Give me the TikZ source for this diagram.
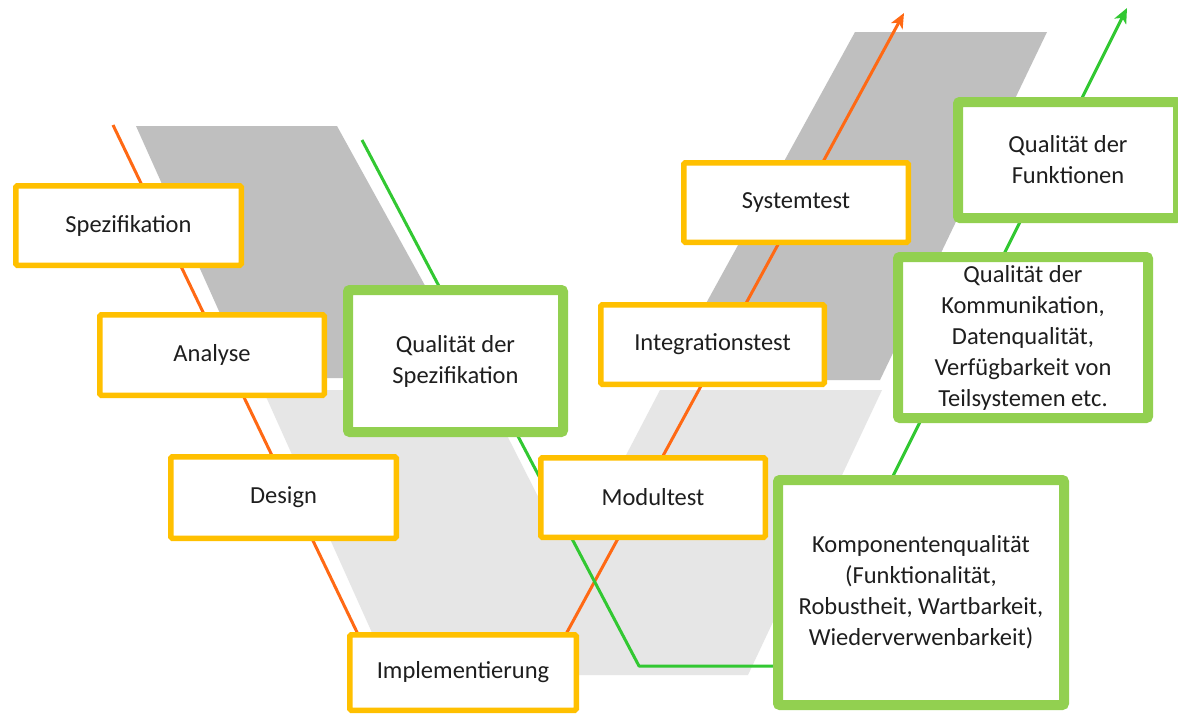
\documentclass[tikz,border=0pt]{standalone}
\usepackage{fontspec}
\setmainfont{Carlito}
\usetikzlibrary{arrows.meta}
\definecolor{boxorange}{HTML}{FFC000}
\definecolor{boxgreen}{HTML}{92D050}
\definecolor{lineorange}{RGB}{255,105,20}
\definecolor{linegreen}{RGB}{50,200,50}
\definecolor{darkband}{HTML}{BFBFBF}
\definecolor{lightband}{HTML}{E6E6E6}
\definecolor{txt}{HTML}{1E1E1E}
\begin{document}
\begin{tikzpicture}[x=1pt,y=-1pt,
  phasebox/.style={draw=boxorange, line width=5.5pt, fill=white, rounded corners=1.5pt,
    inner sep=0pt, text=txt, font=\fontsize{24.5}{31}\selectfont, align=center},
  qualbox/.style={draw=boxgreen, line width=10pt, fill=white, rounded corners=2pt,
    inner sep=0pt, text=txt, font=\fontsize{24.5}{31}\selectfont, align=center},
  oline/.style={draw=lineorange, line width=3pt, line join=round},
  gline/.style={draw=linegreen, line width=3pt, line join=round},
  tiphead/.style={-{Stealth[length=15pt,width=13pt,inset=4pt]}}
]
\useasboundingbox (0,0) rectangle (1178,713);
\fill[white] (0,0) rectangle (1178,713);

% background bands of the V
\fill[darkband] (136,126) -- (337,126) -- (476,378) -- (249,378) -- cycle;
\fill[darkband] (855,32) -- (1047,32) -- (880,380) -- (664,380) -- cycle;
\fill[lightband] (263,390) -- (484,390) -- (555,530) -- (587,530) -- (660,390)
  -- (882,390) -- (748,675) -- (391,675) -- cycle;

% connector waypoints
\coordinate (oS) at (113,125);
\coordinate (oL) at (380,680);
\coordinate (oR) at (541,680);
\coordinate (oE) at (904,13);
\coordinate (gS) at (362,140);
\coordinate (gL) at (639,666);
\coordinate (gR) at (893,666);
\coordinate (gU) at (893,476);
\coordinate (gE) at (1127,8);

\draw[oline,tiphead] (oS) -- (oL) -- (oR) -- (oE);
\draw[gline,tiphead] (gS) -- (gL) -- (gR) -- (gU) -- (gE);

% phase boxes
\node[phasebox, minimum width=225.5pt, minimum height=79.5pt] (spez) at (128.5,225.5) {Spezifikation};
\node[phasebox, minimum width=224.5pt, minimum height=80.5pt] (analyse) at (212,355) {Analyse};
\node[phasebox, minimum width=225.5pt, minimum height=81.5pt] (design) at (283.5,497.5) {Design};
\node[phasebox, minimum width=226.5pt, minimum height=75.5pt] (impl) at (463,672.5) {Implementierung};
\node[phasebox, minimum width=224.5pt, minimum height=79.5pt] (modul) at (653,497.5) {Modultest};
\node[phasebox, minimum width=223.5pt, minimum height=79.5pt] (integ) at (712.5,344.5) {Integrationstest};
\node[phasebox, minimum width=224.5pt, minimum height=79.5pt] (system) at (796,202.5) {Systemtest};

% quality boxes
\node[qualbox, minimum width=215pt, minimum height=142pt] (qspez) at (455.5,361) {Qualität der\\Spezifikation};
\node[qualbox, minimum width=220pt, minimum height=116pt] (qfunk) at (1068,160) {Qualität der\\Funktionen};
\node[qualbox, minimum width=250pt, minimum height=161pt] (qkomm) at (1023,337.5) {Qualität der\\Kommunikation,\\Datenqualität,\\Verfügbarkeit von\\Teilsystemen etc.};
\node[qualbox, minimum width=286pt, minimum height=225pt] (qkomp) at (921,592.5) {Komponentenqualität\\(Funktionalität,\\Robustheit, Wartbarkeit,\\Wiederverwenbarkeit)};
\end{tikzpicture}
\end{document}
